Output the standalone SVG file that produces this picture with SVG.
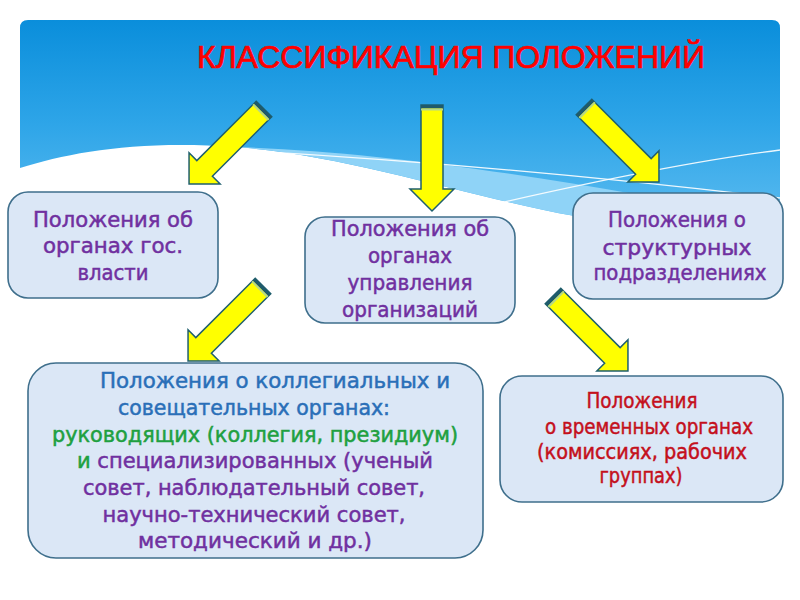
<svg xmlns="http://www.w3.org/2000/svg" xmlns:xlink="http://www.w3.org/1999/xlink" width="800" height="600" viewBox="0 0 800 600">
<defs>
<linearGradient id="sky" x1="0" y1="0" x2="0" y2="1">
<stop offset="0" stop-color="#0a8edb"/>
<stop offset="0.5" stop-color="#2ea5e8"/>
<stop offset="1" stop-color="#5cbcf0"/>
</linearGradient>
<g id="arr">
<path d="M0,-11 L84,-11 L84,-22 L106,0 L84,22 L84,11 L0,11 Z" fill="#ffff00" stroke="#1f5f6e" stroke-width="1.5" stroke-linejoin="miter"/>
<rect x="0" y="-11" width="3.5" height="22" fill="#1f5a6a"/>
<rect x="3.5" y="-11" width="2" height="22" fill="#b5d88a"/>
</g>
</defs>
<style>
.box{fill:#dbe7f6;stroke:#3f6f8c;stroke-width:1.6}
.t{font-family:"DejaVu Sans","Noto Sans",sans-serif;font-size:21px;text-anchor:middle;stroke-width:0.5}
.pu{fill:#7030a0;stroke:#7030a0}
.bl{fill:#2a6fb8;stroke:#2a6fb8}
.gr{fill:#20a040;stroke:#20a040}
.rd{fill:#c4101c;stroke:#c4101c}
.wl{fill:none;stroke:#ffffff;stroke-width:1.3;opacity:0.9}
</style>
<rect width="800" height="600" fill="#ffffff"/>
<g id="background">
<path d="M20,28 Q20,20 28,20 L772,20 Q780,20 780,28 L780,228 C700,226 630,222 575,216 C480,200 350,155 235,147 C140,140 70,152 20,168 Z" fill="url(#sky)"/>
<path d="M235,147 C350,150 500,170 640,195 C700,205 750,205 780,200 L780,228 C700,226 630,222 575,216 C480,200 350,155 235,147 Z" fill="#8fd3f7"/>
<path class="wl" d="M235,150 Q500,165 780,198"/>
<path class="wl" d="M495,204 C600,180 700,160 780,150"/>
</g>
<g id="title">
<text x="197" y="68" font-family="'Liberation Sans',Arial,sans-serif" font-size="31" fill="#ff0000" stroke="#ff0000" stroke-width="0.7" textLength="508" lengthAdjust="spacingAndGlyphs">КЛАССИФИКАЦИЯ ПОЛОЖЕНИЙ</text>
</g>
<g id="connectors">
<use xlink:href="#arr" transform="translate(264,109) rotate(135)"/>
<use xlink:href="#arr" transform="translate(432,105) rotate(90)"/>
<use xlink:href="#arr" transform="translate(584,107) rotate(45)"/>
<use xlink:href="#arr" transform="translate(263,286) rotate(135)"/>
<use xlink:href="#arr" transform="translate(553,296) rotate(45)"/>
</g>
<g id="node-gov">
<rect class="box" x="8" y="192" width="210" height="106" rx="20"/>
<text class="t pu" x="113" y="227" textLength="160" lengthAdjust="spacingAndGlyphs">Положения об</text>
<text class="t pu" x="113" y="253" textLength="140" lengthAdjust="spacingAndGlyphs">органах гос.</text>
<text class="t pu" x="113" y="280" textLength="71" lengthAdjust="spacingAndGlyphs">власти</text>
</g>
<g id="node-org">
<rect class="box" x="305" y="217" width="210" height="106" rx="20"/>
<text class="t pu" x="410" y="236" textLength="158" lengthAdjust="spacingAndGlyphs">Положения об</text>
<text class="t pu" x="410" y="263" textLength="84" lengthAdjust="spacingAndGlyphs">органах</text>
<text class="t pu" x="410" y="290" textLength="125" lengthAdjust="spacingAndGlyphs">управления</text>
<text class="t pu" x="410" y="317" textLength="136" lengthAdjust="spacingAndGlyphs">организаций</text>
</g>
<g id="node-struct">
<rect class="box" x="573" y="193" width="210" height="106" rx="20"/>
<text class="t pu" x="677" y="227" textLength="138" lengthAdjust="spacingAndGlyphs">Положения о</text>
<text class="t pu" x="677" y="255" textLength="149" lengthAdjust="spacingAndGlyphs">структурных</text>
<text class="t pu" x="680" y="280" textLength="173" lengthAdjust="spacingAndGlyphs">подразделениях</text>
</g>
<g id="node-collegial">
<rect class="box" x="28" y="363" width="455" height="195" rx="28"/>
<text class="t bl" x="100" y="388" style="text-anchor:start" textLength="350" lengthAdjust="spacingAndGlyphs">Положения о коллегиальных и</text>
<text class="t bl" x="254" y="415" textLength="272" lengthAdjust="spacingAndGlyphs">совещательных органах:</text>
<text class="t gr" x="255" y="442" textLength="406" lengthAdjust="spacingAndGlyphs">руководящих (коллегия, президиум)</text>
<text class="t pu" x="255" y="468" textLength="356" lengthAdjust="spacingAndGlyphs"><tspan class="gr">и</tspan> специализированных (ученый</text>
<text class="t pu" x="254" y="495" textLength="342" lengthAdjust="spacingAndGlyphs">совет, наблюдательный совет,</text>
<text class="t pu" x="254" y="522" textLength="303" lengthAdjust="spacingAndGlyphs">научно-технический совет,</text>
<text class="t pu" x="255" y="548" textLength="234" lengthAdjust="spacingAndGlyphs">методический и др.)</text>
</g>
<g id="node-temp">
<rect class="box" x="500" y="376" width="283" height="126" rx="22"/>
<text class="t rd" x="642" y="408" textLength="111" lengthAdjust="spacingAndGlyphs">Положения</text>
<text class="t rd" x="649" y="434" textLength="208" lengthAdjust="spacingAndGlyphs">о временных органах</text>
<text class="t rd" x="642" y="459" textLength="210" lengthAdjust="spacingAndGlyphs">(комиссиях, рабочих</text>
<text class="t rd" x="641" y="483" textLength="83" lengthAdjust="spacingAndGlyphs">группах)</text>
</g>
</svg>
